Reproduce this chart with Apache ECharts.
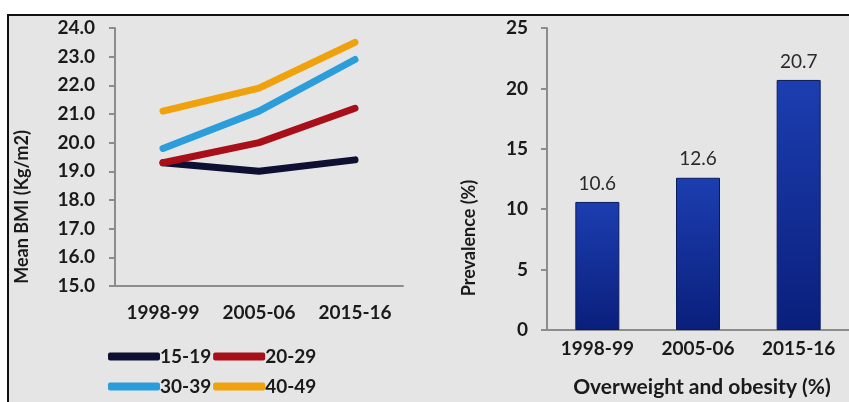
<!DOCTYPE html>
<html>
<head>
<meta charset="utf-8">
<script src="https://cdn.jsdelivr.net/npm/echarts@6/dist/echarts.min.js"></script>
<style>
html,body{margin:0;padding:0;background:#ffffff;}
#chart{width:849px;height:402px;}
</style>
</head>
<body>
<div id="chart"></div>
<script>
const categories = ['1998-99', '2005-06', '2015-16'];
const ageGroups = ['15-19', '20-29', '30-39', '40-49'];
const bmi15_19 = [19.3, 19.0, 19.4];
const bmi20_29 = [19.3, 20.0, 21.2];
const bmi30_39 = [19.8, 21.1, 22.9];
const bmi40_49 = [21.1, 21.9, 23.5];
const prevalence = [10.6, 12.6, 20.7];
const leftAxisTitle = 'Mean BMI (Kg/m2)';
const rightAxisTitle = 'Prevalence (%)';
const rightXTitle = 'Overweight and obesity (%)';

const lineColors = ['#0d0f33', '#a80f18', '#2b9ddb', '#f0a20c'];
const bmiSeries = [bmi15_19, bmi20_29, bmi30_39, bmi40_49];
const FONT = 'Lato, "Open Sans", sans-serif';
const axisGray = '#8c8c8c';
const textColor = '#1a1a1a';

const chart = echarts.init(document.getElementById('chart'), null, {renderer: 'canvas'});

const lineSeries = ageGroups.map((name, i) => ({
  name: name,
  type: 'line',
  xAxisIndex: 0,
  yAxisIndex: 0,
  data: bmiSeries[i],
  symbol: 'none',
  lineStyle: {width: 7, color: lineColors[i], cap: 'round', join: 'round'},
  itemStyle: {color: lineColors[i]},
  z: 3 + i
}));

const option = {
  animation: false,
  backgroundColor: '#ffffff',
  graphic: [
    {
      type: 'rect',
      z: -10,
      silent: true,
      shape: {x: 8, y: 15, width: 900, height: 450},
      style: {fill: '#e5e5e5', stroke: '#111111', lineWidth: 2}
    },
    {
      type: 'text',
      x: 22, y: 207,
      rotation: Math.PI / 2,
      style: {
        text: leftAxisTitle,
        font: 'bold 18px ' + FONT,
        fill: textColor,
        align: 'center', verticalAlign: 'middle',
        textAlign: 'center', textVerticalAlign: 'middle'
      }
    },
    {
      type: 'text',
      x: 469, y: 238,
      rotation: Math.PI / 2,
      style: {
        text: rightAxisTitle,
        font: 'bold 18px ' + FONT,
        fill: textColor,
        align: 'center', verticalAlign: 'middle',
        textAlign: 'center', textVerticalAlign: 'middle'
      }
    },
    {
      type: 'text',
      x: 702, y: 387,
      style: {
        text: rightXTitle,
        font: 'bold 21px ' + FONT,
        fill: textColor,
        align: 'center', verticalAlign: 'middle',
        textAlign: 'center', textVerticalAlign: 'middle'
      }
    }
  ],
  legend: [
    {
      data: ageGroups.slice(0, 2),
      left: 103, top: 342,
      orient: 'horizontal',
      icon: 'roundRect',
      itemWidth: 52, itemHeight: 8, itemGap: 2,
      textStyle: {fontFamily: FONT, fontSize: 19, fontWeight: 'bold', color: textColor, padding: [0, 0, 0, -5]}
    },
    {
      data: ageGroups.slice(2, 4),
      left: 103, top: 372,
      orient: 'horizontal',
      icon: 'roundRect',
      itemWidth: 52, itemHeight: 8, itemGap: 2,
      textStyle: {fontFamily: FONT, fontSize: 19, fontWeight: 'bold', color: textColor, padding: [0, 0, 0, -5]}
    }
  ],
  grid: [
    {left: 115, top: 28, width: 288, height: 258, containLabel: false},
    {left: 547, top: 28, width: 312, height: 302, containLabel: false}
  ],
  xAxis: [
    {
      type: 'category', gridIndex: 0, data: categories, boundaryGap: true,
      axisLine: {lineStyle: {color: axisGray, width: 2}},
      axisTick: {show: false},
      axisLabel: {margin: 17, fontFamily: FONT, fontSize: 19, fontWeight: 'bold', color: textColor}
    },
    {
      type: 'category', gridIndex: 1, data: categories, boundaryGap: true,
      axisLine: {lineStyle: {color: axisGray, width: 2}},
      axisTick: {show: false},
      axisLabel: {margin: 9, fontFamily: FONT, fontSize: 19, fontWeight: 'bold', color: textColor}
    }
  ],
  yAxis: [
    {
      type: 'value', gridIndex: 0, min: 15, max: 24, interval: 1,
      axisLine: {show: true, lineStyle: {color: axisGray, width: 2}},
      axisTick: {show: true, length: 6, lineStyle: {color: axisGray, width: 2}},
      splitLine: {show: false},
      axisLabel: {margin: 20, fontFamily: FONT, fontSize: 19, fontWeight: 'bold', color: textColor,
        formatter: v => v.toFixed(1)}
    },
    {
      type: 'value', gridIndex: 1, min: 0, max: 25, interval: 5,
      axisLine: {show: true, lineStyle: {color: axisGray, width: 2}},
      axisTick: {show: true, length: 6, lineStyle: {color: axisGray, width: 2}},
      splitLine: {show: false},
      axisLabel: {margin: 19, fontFamily: FONT, fontSize: 19, fontWeight: 'bold', color: textColor}
    }
  ],
  series: lineSeries.concat([
    {
      name: 'Prevalence',
      type: 'bar',
      xAxisIndex: 1,
      yAxisIndex: 1,
      data: prevalence,
      barWidth: 44,
      itemStyle: {
        color: new echarts.graphic.LinearGradient(0, 0, 0, 1, [
          {offset: 0, color: '#1c3eb0'},
          {offset: 1, color: '#0a1f7c'}
        ]),
        borderColor: '#0a1a5e',
        borderWidth: 1
      },
      label: {
        show: true, position: 'top', distance: 9,
        fontFamily: FONT, fontSize: 19, color: '#2a2a2a',
        formatter: p => p.value.toFixed(1)
      }
    }
  ])
};

chart.setOption(option);
</script>
</body>
</html>
